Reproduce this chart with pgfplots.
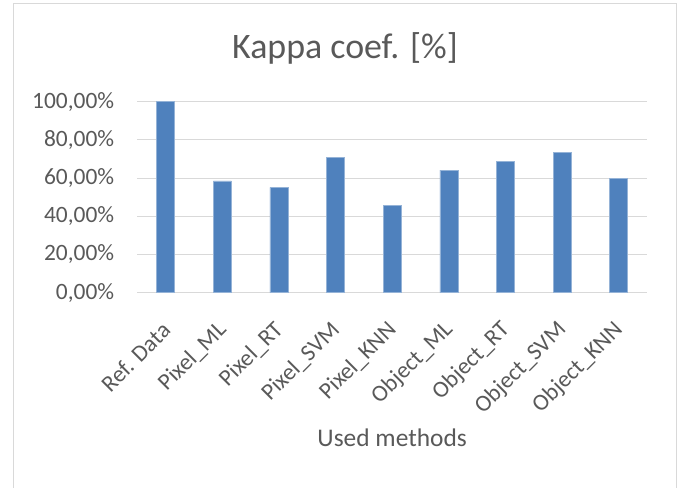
\documentclass[border=0pt]{standalone}
\usepackage{fontspec}
\setmainfont{Carlito}
\usepackage{pgfplots}
\pgfplotsset{compat=1.18}
\definecolor{barblue}{HTML}{4F81BD}
\definecolor{gridgray}{HTML}{D9D9D9}
\definecolor{textgray}{HTML}{595959}
\begin{document}
\begin{tikzpicture}
\useasboundingbox (0,0) rectangle (683bp,488bp);
\draw[gridgray, line width=1bp] (13.7bp,-5bp) rectangle (676bp,484.7bp);
\node[font=\fontsize{36}{43}\selectfont, text=textgray, anchor=base] at (345bp,429.7bp) {Kappa coef. [\%]};
\begin{axis}[
  at={(137.3bp,195.3bp)}, anchor=south west,
  scale only axis, width=509.7bp, height=191bp,
  ybar, bar width=18bp,
  xmin=-0.5, xmax=8.5, ymin=0, ymax=100,
  xtick={0,...,8},
  xticklabels={Ref. Data,Pixel\_ML,Pixel\_RT,Pixel\_SVM,Pixel\_KNN,Object\_ML,Object\_RT,Object\_SVM,Object\_KNN},
  ytick={0,20,...,100},
  yticklabel={\pgfmathprintnumber[fixed,fixed zerofill,precision=2,use comma,assume math mode=true]{\tick}\%},
  axis line style={draw=none},
  major tick length=0pt,
  ymajorgrids, grid style={gridgray, line width=1bp},
  tick label style={text=textgray, font=\fontsize{23.5}{27}\selectfont},
  yticklabel style={inner sep=0pt, xshift=-23bp},
  xticklabel style={rotate=45, anchor=east, inner sep=0pt, xshift=-23.2bp, yshift=-24.2bp},
  xlabel={Used methods},
  xlabel style={at={(axis description cs:0.5,0)}, anchor=base, yshift=-154bp, text=textgray, font=\fontsize{25.5}{30}\selectfont},
  /pgf/number format/assume math mode=true,
  clip=false,
]
\addplot[fill=barblue, draw=barblue!60!white, line width=0.4bp] coordinates {
  (0,100) (1,58.5) (2,55.1) (3,71.0) (4,45.9) (5,64.2) (6,68.8) (7,73.6) (8,60.0)
};
\end{axis}
\end{tikzpicture}
\end{document}
